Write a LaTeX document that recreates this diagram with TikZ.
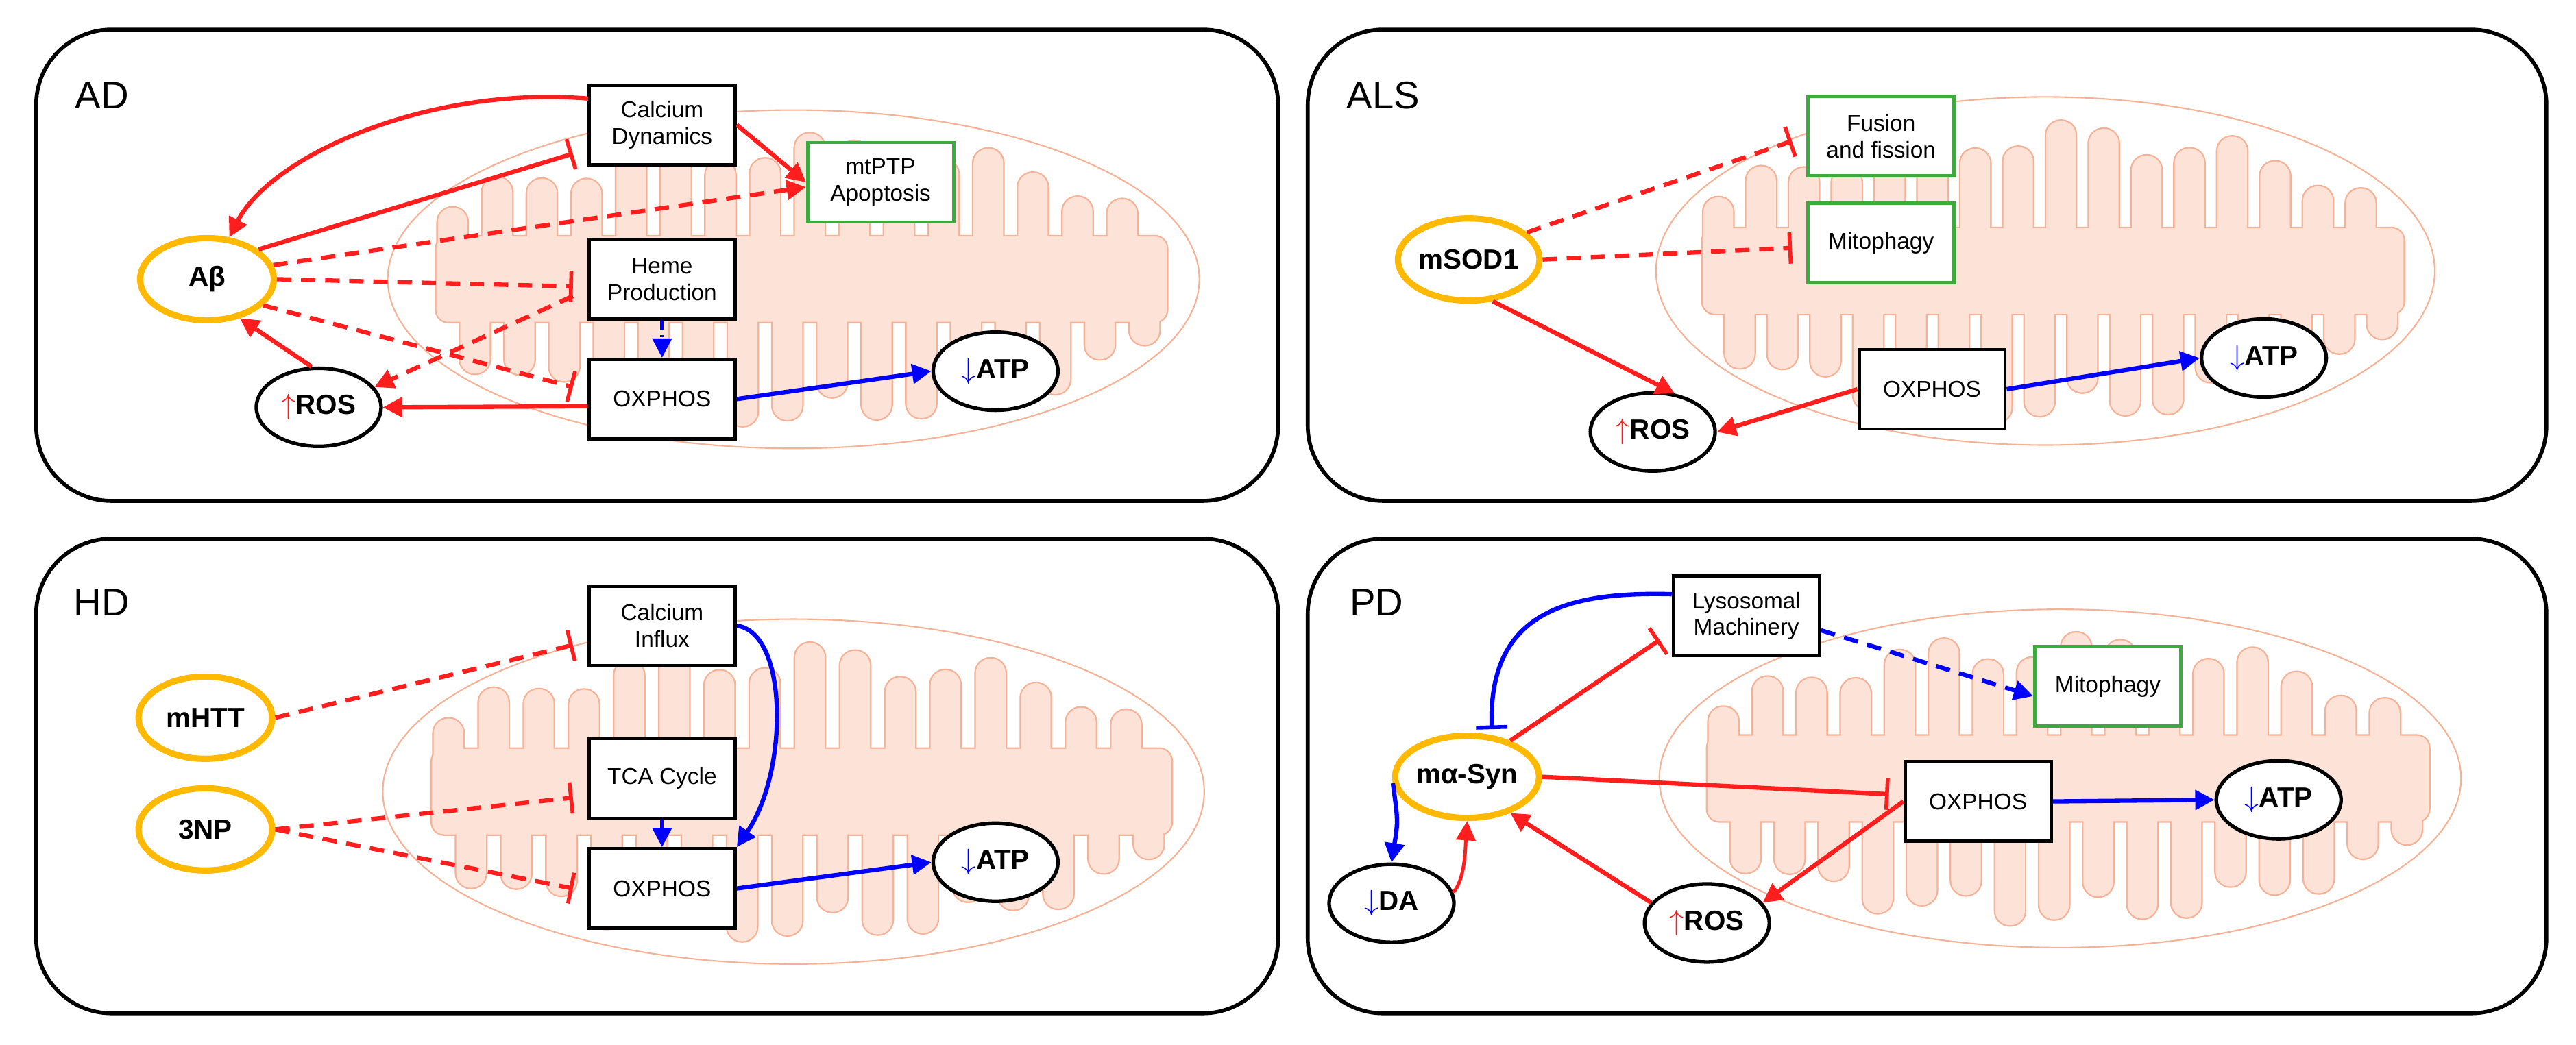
\documentclass[tikz,border=0pt]{standalone}
\usepackage{fontspec}
\setmainfont{Liberation Sans}
\usetikzlibrary{arrows.meta,shapes.geometric}
\definecolor{cris}{RGB}{253,226,215}
\definecolor{mline}{RGB}{246,178,150}
\definecolor{rd}{RGB}{255,30,30}
\definecolor{bl}{RGB}{0,0,255}
\definecolor{gr}{RGB}{60,170,60}
\definecolor{og}{RGB}{255,185,0}
\tikzset{
 panel/.style={draw=black,line width=1.6pt,rounded corners=1.1cm},
 box/.style={draw=black,line width=1.4pt,fill=white,minimum width=2.13cm,minimum height=1.16cm,align=center,font=\fontsize{9.5}{11}\selectfont,inner sep=1pt},
 gbox/.style={box,draw=gr},
 oval/.style={ellipse,draw=black,line width=1.5pt,fill=white,minimum width=1.82cm,minimum height=1.14cm,font=\bfseries\fontsize{11.5}{13}\selectfont,inner sep=0pt},
 dis/.style={oval,draw=og,line width=2.6pt,minimum width=1.95cm,minimum height=1.2cm},
 lab/.style={font=\fontsize{16}{18}\selectfont},
 ra/.style={draw=rd,line width=1.8pt,-{Triangle[length=8pt,width=8pt]}},
 rt/.style={draw=rd,line width=1.8pt,-{Bar[width=13pt,line width=1.6pt]}},
 ba/.style={draw=bl,line width=1.8pt,-{Triangle[length=8pt,width=8pt]}},
 bt/.style={draw=bl,line width=1.8pt,-{Bar[width=13pt,line width=1.6pt]}},
 dsh/.style={dash pattern=on 6pt off 4pt},
 mitoline/.style={draw=mline,line width=0.6pt}
}
% #5 = style applied to each cristae piece
\newcommand\cristae[5]{%
\path[#5,rounded corners=5pt] (-0.88*#3,-26) rectangle (0.92*#3,26);
\foreach \i in {0,...,15}{
 \pgfmathsetmacro\xx{-0.84*#3+\i*0.11*#3}
 \pgfmathsetmacro\xd{\xx+0.055*#3}
 \pgfmathsetmacro\hh{#4*(0.78+0.1*sin(\i*97))*sqrt(max(0.08,1-(\xx/#3)^2))}
 \pgfmathsetmacro\hd{#4*(0.8+0.1*cos(\i*113))*sqrt(max(0.08,1-(\xd/#3)^2))}
 \path[#5,rounded corners=6pt] (\xx-9,0) rectangle (\xx+9,-\hh);
 \path[#5,rounded corners=6pt] (\xd-9,0) rectangle (\xd+9,\hd);
}}
\newcommand\mitoch[4]{%
\begin{scope}[shift={(#1,#2)}]
\cristae{#1}{#2}{#3}{#4}{draw=mline,line width=1.3pt}
\cristae{#1}{#2}{#3}{#4}{fill=cris}
\draw[mitoline] (0,0) ellipse [x radius={#3*0.02397cm}, y radius={#4*0.02397cm}];
\end{scope}}
\newcommand\up{\textcolor{rd}{$\uparrow$}}
\newcommand\dn{\textcolor{bl}{$\downarrow$}}
\begin{document}
\begin{tikzpicture}[x=0.02397cm,y=-0.02397cm]
\useasboundingbox (0,0) rectangle (1568,636);
% panels
\draw[panel] (22,18) rectangle (778,305);
\draw[panel] (796,18) rectangle (1550,305);
\draw[panel] (22,328) rectangle (778,617);
\draw[panel] (796,328) rectangle (1550,617);
\mitoch{483}{170}{247}{103}
\mitoch{1245}{165}{237}{106}
\mitoch{483}{482}{250}{105}
\mitoch{1254}{474}{244}{103}
\node[lab] (tAD) at (62,58) {AD};
\node[lab] (tALS) at (842,58) {ALS};
\node[lab] (tHD) at (62,367) {HD};
\node[lab] (tPD) at (838,367) {PD};
% ---------- AD ----------
\node[box] (cd) at (403,76) {Calcium\\Dynamics};
\node[gbox] (mt) at (536,111) {mtPTP\\Apoptosis};
\node[box] (hp) at (403,170) {Heme\\Production};
\node[box] (ox1) at (403,243) {OXPHOS};
\node[dis] (ab) at (126,170) {Aβ};
\node[oval] (ros1) at (194,248) {\up ROS};
\node[oval] (atp1) at (606,226) {\dn ATP};
\coordinate (c1) at (358,60);
\draw[ra] (c1) .. controls (260,52) and (165,95) .. (ab.62);
\draw[rt] (ab.30) -- ([xshift=-6pt,yshift=-12pt]cd.west);
\draw[ra] (cd.east) -- (mt.west);
\draw[ra,dsh] (ab.12) -- ([yshift=-2pt]mt.west);
\draw[rt,dsh] (ab.east) -- ([xshift=-6pt,yshift=-3pt]hp.west);
\draw[rt,dsh] (ab.-25) -- ([xshift=-6pt,yshift=5pt]ox1.west);
\draw[ra,dsh] ([xshift=-6pt,yshift=-7pt]hp.west) -- (ros1.20);
\draw[ra] ([yshift=-3pt]ox1.west) -- (ros1.east);
\draw[ra] (ros1.100) -- (ab.-50);
\draw[ba,dash pattern=on 4pt off 2pt on 1pt off 2pt,line width=1.4pt] (hp.south) -- (ox1.north);
\draw[ba] (ox1.east) -- (atp1.west);
% ---------- ALS ----------
\node[gbox] (ff) at (1145,83) {Fusion\\and fission};
\node[gbox] (mp1) at (1145,148) {Mitophagy};
\node[dis] (sod) at (894,158) {mSOD1};
\node[box] (ox2) at (1176,237) {OXPHOS};
\node[oval] (ros2) at (1006,263) {\up ROS};
\node[oval] (atp2) at (1378,218) {\dn ATP};
\draw[rt,dsh] (sod.25) -- ([xshift=-6pt,yshift=-2pt]ff.west);
\draw[rt,dsh] (sod.east) -- ([xshift=-6pt,yshift=-2pt]mp1.west);
\draw[ra] (sod.-60) -- (ros2.60);
\draw[ra] (ox2.west) -- (ros2.east);
\draw[ba] (ox2.east) -- (atp2.west);
% ---------- HD ----------
\node[box] (ci) at (403,381) {Calcium\\Influx};
\node[box] (tca) at (403,474) {TCA Cycle};
\node[box] (ox3) at (403,541) {OXPHOS};
\node[dis] (htt) at (125,437) {mHTT};
\node[dis] (np) at (125,505) {3NP};
\node[oval] (atp3) at (606,525) {\dn ATP};
\draw[rt,dsh] (htt.east) -- ([xshift=-6pt,yshift=-8pt]ci.west);
\draw[rt,dsh] (np.east) -- ([xshift=-6pt,yshift=-8pt]tca.west);
\draw[rt,dsh] (np.east) -- ([xshift=-6pt,yshift=0pt]ox3.west);
\draw[ba] (ci.east) .. controls (480,385) and (480,470) .. (ox3.north east);
\draw[ba,line width=1.4pt] (tca.south) -- (ox3.north);
\draw[ba] (ox3.east) -- (atp3.west);
% ---------- PD ----------
\node[box] (lm) at (1063,375) {Lysosomal\\Machinery};
\node[gbox] (mp2) at (1283,418) {Mitophagy};
\node[dis] (syn) at (893,473) {mα-Syn};
\node[box] (ox4) at (1204,488) {OXPHOS};
\node[oval] (atp4) at (1387,487) {\dn ATP};
\node[oval] (da) at (847,550) {\dn DA};
\node[oval] (ros4) at (1039,562) {\up ROS};
\coordinate (s1) at (908,444);
\draw[bt] ([yshift=9pt]lm.west) .. controls (950,360) and (906,375) .. (s1);
\draw[rt] (syn.40) -- ([xshift=-5pt,yshift=-10pt]lm.west);
\draw[ba,dsh] ([yshift=-6pt]lm.east) -- ([yshift=-4pt]mp2.west);
\draw[rt] (syn.east) -- ([xshift=-6pt,yshift=3pt]ox4.west);
\draw[ra] (ox4.west) -- (ros4.20);
\draw[ra] (ros4.160) -- (syn.-40);
\draw[ba] (syn.185) .. controls (851,500) .. (da.north);
\draw[ra,line width=1.4pt] (da.10) .. controls (892,535) and (892,515) .. (syn.south);
\draw[ba] (ox4.east) -- (atp4.west);
\end{tikzpicture}
\end{document}
